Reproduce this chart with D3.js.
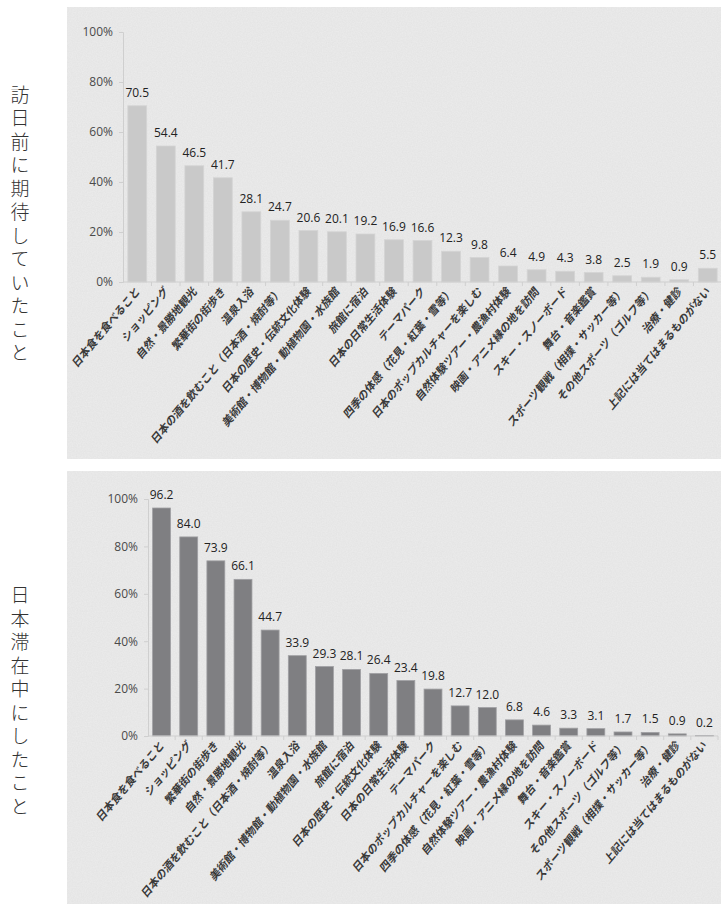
<!DOCTYPE html>
<html>
<head>
<meta charset="utf-8">
<script src="https://cdn.jsdelivr.net/npm/d3@7"></script>
<style>
  body { margin:0; background:#fff; }
  svg { display:block; }
</style>
</head>
<body>
<div id="container"></div>
<script>
// data: before the visit (top) and during the stay (bottom)
var beforeCats = ["日本食を食べること","ショッピング","自然・景勝地観光","繁華街の街歩き","温泉入浴",
  "日本の酒を飲むこと（日本酒・焼酎等）","日本の歴史・伝統文化体験","美術館・博物館・動植物園・水族館",
  "旅館に宿泊","日本の日常生活体験","テーマパーク","四季の体感（花見・紅葉・雪等）",
  "日本のポップカルチャーを楽しむ","自然体験ツアー・農漁村体験","映画・アニメ縁の地を訪問",
  "スキー・スノーボード","舞台・音楽鑑賞","スポーツ観戦（相撲・サッカー等）","その他スポーツ（ゴルフ等）",
  "治療・健診","上記には当てはまるものがない"]
var beforeVals = [70.5,54.4,46.5,41.7,28.1,24.7,20.6,20.1,19.2,16.9,16.6,12.3,9.8,6.4,4.9,4.3,3.8,2.5,1.9,0.9,5.5]

var duringCats = ["日本食を食べること","ショッピング","繁華街の街歩き","自然・景勝地観光",
  "日本の酒を飲むこと（日本酒・焼酎等）","温泉入浴","美術館・博物館・動植物園・水族館","旅館に宿泊",
  "日本の歴史・伝統文化体験","日本の日常生活体験","テーマパーク","日本のポップカルチャーを楽しむ",
  "四季の体感（花見・紅葉・雪等）","自然体験ツアー・農漁村体験","映画・アニメ縁の地を訪問",
  "舞台・音楽鑑賞","スキー・スノーボード","その他スポーツ（ゴルフ等）","スポーツ観戦（相撲・サッカー等）",
  "治療・健診","上記には当てはまるものがない"]
var duringVals = [96.2,84.0,73.9,66.1,44.7,33.9,29.3,28.1,26.4,23.4,19.8,12.7,12.0,6.8,4.6,3.3,3.1,1.7,1.5,0.9,0.2]

var yTicks = [0,20,40,60,80,100]
var sideTitles = ["訪日前に期待していたこと","日本滞在中にしたこと"]

var width = 721, height = 904

var svg = d3.select("#container")
  .append("svg")
    .attr("width", width)
    .attr("height", height)

// faint paper grain for the panels
var filter = svg.append("defs").append("filter")
    .attr("id", "grain")
    .attr("x", 0).attr("y", 0).attr("width", 1).attr("height", 1)
filter.append("feTurbulence")
    .attr("type", "fractalNoise")
    .attr("baseFrequency", 0.8)
    .attr("numOctaves", 2)
    .attr("seed", 3)
    .attr("result", "noise")
filter.append("feColorMatrix")
    .attr("in", "noise")
    .attr("type", "matrix")
    .attr("values", "0 0 0 0 0  0 0 0 0 0  0 0 0 0 0  0 0 0 0.09 0")
    .attr("result", "speck")
filter.append("feComposite")
    .attr("in", "speck").attr("in2", "SourceGraphic")
    .attr("operator", "atop")

var tickFont = "'Open Sans','Noto Sans CJK JP',sans-serif"
var jpFont = "'Noto Sans CJK JP',sans-serif"

function drawChart(opt){
  // panel
  svg.append("rect")
    .attr("x", opt.panel[0]).attr("y", opt.panel[1])
    .attr("width", opt.panel[2]).attr("height", opt.panel[3])
    .attr("fill", "#ececec")
    .attr("filter", "url(#grain)")

  // side title
  svg.append("text")
    .attr("x", 20).attr("y", opt.titleY)
    .attr("text-anchor", "middle")
    .style("writing-mode", "vertical-rl")
    .style("font-family", jpFont)
    .style("font-weight", 300)
    .style("font-size", "19px")
    .style("letter-spacing", "4.5px")
    .style("fill", "#333")
    .text(opt.title)

  var x = d3.scaleBand()
    .domain(opt.cats)
    .range(opt.xRange)
    .paddingInner(0.34)
    .paddingOuter(0.17)

  var y = d3.scaleLinear()
    .domain([0,100])
    .range(opt.yRange)

  var g = svg.append("g")

  // y axis
  var yAxis = g.append("g")
    .attr("transform", "translate(" + opt.xRange[0] + ",0)")
    .call(d3.axisLeft(y).tickValues(yTicks).tickSize(4).tickPadding(6)
      .tickFormat(function(d){ return d + "%" }))
  yAxis.select(".domain").attr("stroke", "#cfcfcf")
  yAxis.selectAll(".tick line").attr("stroke", "#cfcfcf")
  yAxis.selectAll("text")
    .style("font-family", tickFont)
    .style("font-size", "12px")
    .style("fill", "#4a4a4a")

  // bars
  g.selectAll(".bar")
    .data(opt.vals)
    .enter().append("rect")
      .attr("class", "bar")
      .attr("x", function(d,i){ return x(opt.cats[i]) })
      .attr("y", function(d){ return y(d) })
      .attr("width", x.bandwidth())
      .attr("height", function(d){ return y(0) - y(d) })
      .attr("fill", opt.color)
      .attr("stroke", opt.stroke)
      .attr("stroke-width", 0.8)

  // x axis
  var xAxis = g.append("g")
    .attr("transform", "translate(0," + y(0) + ")")
  xAxis.append("line")
    .attr("x1", opt.xRange[0]).attr("x2", opt.xRange[1])
    .attr("stroke", "#cfcfcf")
  xAxis.selectAll(".xt")
    .data(opt.cats)
    .enter().append("line")
      .attr("class", "xt")
      .attr("x1", function(d){ return x(d) - x.step()*x.paddingInner()/2 + x.step() })
      .attr("x2", function(d){ return x(d) - x.step()*x.paddingInner()/2 + x.step() })
      .attr("y1", 0).attr("y2", 4)
      .attr("stroke", "#cfcfcf")

  // category labels
  xAxis.selectAll(".cat")
    .data(opt.cats)
    .enter().append("text")
      .attr("class", "cat")
      .attr("transform", function(d){
        return "translate(" + (x(d) + x.bandwidth()/2 + 3) + ",10) scale(1,1.2) rotate(-45)" })
      .attr("text-anchor", "end")
      .style("font-family", jpFont)
      .style("font-size", "10px")
      .style("font-weight", "bold")
      .style("fill", "#3a3a3a")
      .text(function(d){ return d })

  // value labels
  g.selectAll(".val")
    .data(opt.vals)
    .enter().append("text")
      .attr("class", "val")
      .attr("x", function(d,i){ return x(opt.cats[i]) + x.bandwidth()/2 })
      .attr("y", function(d){ return y(d) - 9 })
      .attr("text-anchor", "middle")
      .style("font-family", tickFont)
      .style("font-size", "12px")
      .style("fill", "#222")
      .text(function(d){ return d.toFixed(1) })
}

drawChart({
  panel: [67, 7, 660, 452],
  title: sideTitles[0], titleY: 226,
  cats: beforeCats, vals: beforeVals,
  xRange: [123, 722], yRange: [282, 32],
  color: "#c9c9c9", stroke: "#d4d4d4"
})

drawChart({
  panel: [67, 471, 660, 440],
  title: sideTitles[1], titleY: 703,
  cats: duringCats, vals: duringVals,
  xRange: [148, 718], yRange: [736, 499],
  color: "#7f7f82", stroke: "#a0a0a3"
})
</script>
</body>
</html>
